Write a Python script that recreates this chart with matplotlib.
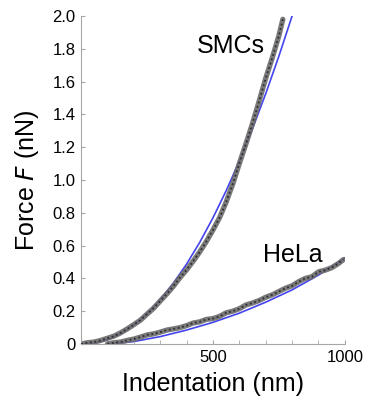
import numpy as np
import matplotlib.pyplot as plt

plt.rcParams['font.family'] = ['Liberation Sans', 'DejaVu Sans']

# SMCs : données mesurées (nm, nN)
smc_x = [0, 25, 50, 75, 100, 125, 150, 175, 200, 225, 250, 275, 300, 325, 350,
         375, 400, 425, 450, 475, 500, 525, 550, 575, 600, 625, 650, 675, 700,
         725, 750, 765]
smc_f = [0.0, 0.008, 0.012, 0.022, 0.035, 0.048, 0.068, 0.092, 0.118, 0.145,
         0.182, 0.218, 0.262, 0.305, 0.352, 0.405, 0.452, 0.505, 0.562, 0.625,
         0.695, 0.77, 0.865, 0.975, 1.1, 1.22, 1.345, 1.48, 1.62, 1.745, 1.88,
         1.98]
# SMCs : ajustement
smc_fit_x = [0, 50, 100, 150, 200, 250, 300, 350, 400, 450, 500, 550, 600,
             650, 700, 750, 800]
smc_fit_f = [0.0, 0.005, 0.026, 0.063, 0.116, 0.185, 0.27, 0.371, 0.487, 0.62,
             0.769, 0.934, 1.115, 1.313, 1.526, 1.755, 2.0]

# HeLa : données mesurées
hela_x = [100, 125, 150, 175, 200, 225, 250, 275, 300, 325, 350, 375, 400, 425,
          450, 475, 500, 525, 550, 575, 600, 625, 650, 675, 700, 725, 750, 775,
          800, 825, 850, 875, 900, 925, 950, 975, 995]
hela_f = [0.0, 0.008, 0.012, 0.022, 0.03, 0.042, 0.055, 0.062, 0.072, 0.085,
          0.092, 0.1, 0.112, 0.128, 0.135, 0.15, 0.155, 0.168, 0.19, 0.2,
          0.215, 0.238, 0.25, 0.265, 0.285, 0.3, 0.32, 0.34, 0.355, 0.38, 0.4,
          0.41, 0.44, 0.45, 0.465, 0.49, 0.515]
# HeLa : ajustement
hela_fit_x = [110, 200, 300, 400, 500, 600, 700, 800, 900, 1000]
hela_fit_f = [0.0, 0.015, 0.045, 0.085, 0.132, 0.188, 0.255, 0.33, 0.42, 0.525]

fig = plt.figure(figsize=(3.7, 4.0), dpi=100)
ax = fig.add_axes([0.219, 0.14, 0.713, 0.82])

for x, f in [(smc_fit_x, smc_fit_f), (hela_fit_x, hela_fit_f)]:
    ax.plot(x, f, color='#4444ee', lw=1.2, zorder=1)
for x, f in [(smc_x, smc_f), (hela_x, hela_f)]:
    ax.plot(x, f, color='0.42', lw=3.8, alpha=0.9, solid_capstyle='round',
            zorder=2)
    ax.plot(x, f, color='0.18', lw=1.3, linestyle=(0, (1, 1.5)), zorder=3)

ax.text(439, 1.82, 'SMCs', fontsize=18, va='center')
ax.text(689, 0.54, 'HeLa', fontsize=18, va='center')

ax.set_xlim(0, 1000)
ax.set_ylim(0, 2.0)
ax.set_xticks([500, 1000])
ax.set_xticks(np.arange(100, 1000, 100), minor=True)
ax.set_yticks(np.arange(0, 2.01, 0.2))
ax.set_yticklabels(['0'] + ['%.1f' % v for v in np.arange(0.2, 2.01, 0.2)])

for s in ['top', 'right']:
    ax.spines[s].set_visible(False)
for s in ['left', 'bottom']:
    ax.spines[s].set_color('0.65')
ax.tick_params(which='both', direction='in', color='0.65', labelsize=12,
               length=3, pad=4)

ax.set_xlabel('Indentation (nm)', fontsize=18, labelpad=5)
ax.set_ylabel('Force $\\it{F}$ (nN)', fontsize=18, labelpad=8)

plt.savefig('out.png', dpi=100)
